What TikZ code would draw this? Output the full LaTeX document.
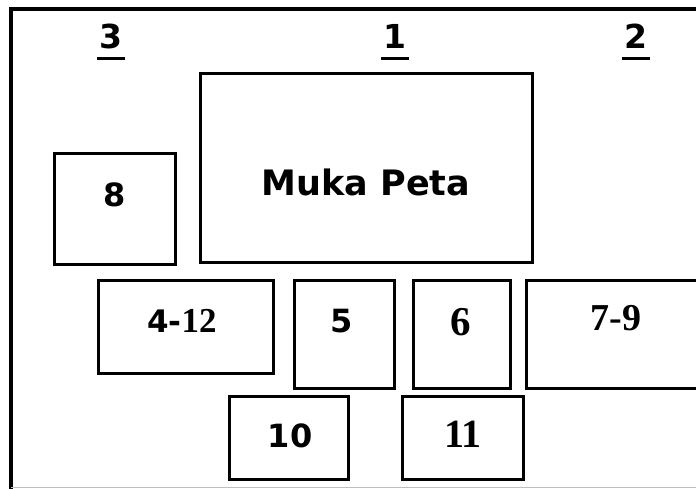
\documentclass[tikz,border=0pt]{standalone}
\usepackage{fontspec}
\setmainfont{Liberation Serif}
\newfontfamily\sansb{DejaVu Sans}
\usetikzlibrary{calc}
\begin{document}
\begin{tikzpicture}[x=1pt,y=-1pt,
  box/.style={draw, line width=3.4pt, inner sep=0pt, anchor=north west},
  lab/.style={inner sep=0pt, anchor=base},
  sanslab/.style={lab, font=\sansb\bfseries\fontsize{32}{32}\selectfont},
  seriflab/.style={lab, font=\bfseries\fontsize{40}{40}\selectfont},
  frame/.style={line width=3.4pt}]
\useasboundingbox (0,0) rectangle (696,488);
% outer frame (cropped at right and bottom)
\coordinate (ftr) at (700,9);
\coordinate (ftl) at (11,9);
\coordinate (fbl) at (11,490);
\coordinate (gbl) at (11,487);
\coordinate (gbr) at (696,487);
\draw[frame] (ftr) -- (ftl) -- (fbl);
\draw[line width=1pt, black!25] (gbl) -- (gbr);
% boxes
\node[box, minimum width=332pt, minimum height=189pt] (muka) at (199,72) {};
\node[box, minimum width=121pt, minimum height=111pt] (b8) at (53,152) {};
\node[box, minimum width=175pt, minimum height=93pt] (b412) at (97,279) {};
\node[box, minimum width=100pt, minimum height=108pt] (b5) at (293,279) {};
\node[box, minimum width=97pt, minimum height=108pt] (b6) at (412,279) {};
\node[box, minimum width=200pt, minimum height=108pt] (b79) at (525,279) {};
\node[box, minimum width=119pt, minimum height=83pt] (b10) at (228,395) {};
\node[box, minimum width=121pt, minimum height=83pt] (b11) at (401,395) {};
% header labels
\node[lab, font=\sansb\bfseries\fontsize{33}{33}\selectfont] (n3) at (111,48) {3};
\node[lab, font=\sansb\bfseries\fontsize{33}{33}\selectfont] (n1) at (395,48) {1};
\node[lab, font=\sansb\bfseries\fontsize{33}{33}\selectfont] (n2) at (636,48) {2};
\foreach \n in {n3,n1,n2}{
  \draw[line width=3pt] ($(\n.base west)+(-2,10)$) -- ($(\n.base east)+(2,10)$);
}
% box labels
\node[lab, font=\sansb\bfseries\fontsize{35}{35}\selectfont] (tmuka) at (366,195) {Muka Peta};
\node[sanslab] (t8) at (115,206) {8};
\node[lab] (t412) at (182,332) {{\sansb\bfseries\fontsize{31}{31}\selectfont 4-}{\bfseries\fontsize{35}{35}\selectfont 12}};
\node[sanslab] (t5) at (342,332) {5};
\node[lab, font=\bfseries\fontsize{41}{41}\selectfont] (t6) at (461,335) {6};
\node[lab, font=\bfseries\fontsize{38}{38}\selectfont] (t79) at (616,330) {7-9};
\node[sanslab] (t10) at (290,447) {10};
\node[seriflab] (t11) at (463,447) {11};
\end{tikzpicture}
\end{document}
